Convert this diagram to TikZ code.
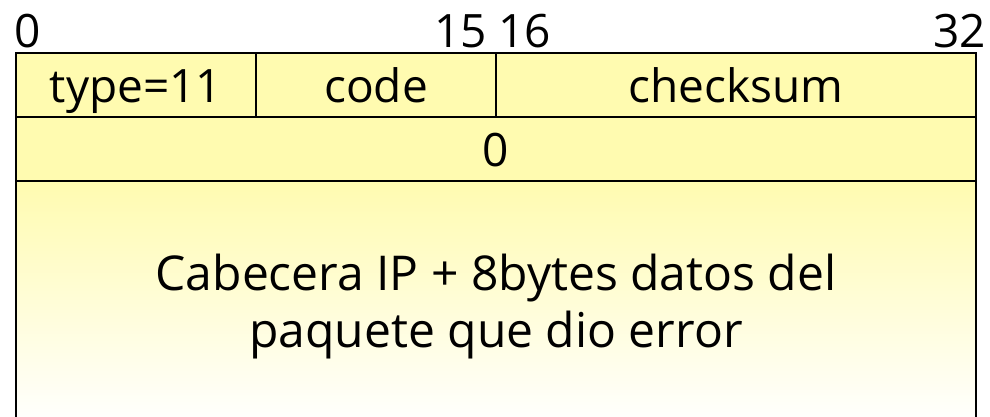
\documentclass[tikz,border=0pt]{standalone}
\usepackage{fontspec}
\setmainfont{Open Sans}
\definecolor{pale}{HTML}{FFFBB0}
\begin{document}
\begin{tikzpicture}[x=1pt,y=-1pt,
  cell/.style={draw=black,line width=2pt,fill=pale,inner sep=0pt,outer sep=0pt},
  txt/.style={inner sep=0pt,anchor=base,font=\fontsize{46}{54}\selectfont},
  big/.style={inner sep=0pt,anchor=base,font=\fontsize{48}{56}\selectfont},
  num/.style={inner sep=0pt,font=\fontsize{46}{54}\selectfont}]
\useasboundingbox (0,0) rectangle (990,417);
\shade[top color=pale,bottom color=white] (16,181) rectangle (976,425);
\draw[line width=2pt] (16,430) -- (16,181) -- (976,181) -- (976,430);
\node[cell,minimum width=240pt,minimum height=64pt,anchor=north west] (type) at (16,53) {};
\node[cell,minimum width=240pt,minimum height=64pt,anchor=north west] (code) at (256,53) {};
\node[cell,minimum width=480pt,minimum height=64pt,anchor=north west] (chk) at (496,53) {};
\node[cell,minimum width=960pt,minimum height=64pt,anchor=north west] (zero) at (16,117) {};
\node[txt] (ttype) at (136,103) {type=11};
\node[txt] (tcode) at (376,103) {code};
\node[txt] (tchk) at (736,103) {checksum};
\node[txt] (tzero) at (496,166) {0};
\node[big] (l1) at (496,290) {Cabecera IP + 8bytes datos del};
\node[big] (l2) at (496,347) {paquete que dio error};
\node[num,anchor=base west] (n0) at (14,48) {0};
\node[num,anchor=base east] (n15) at (487,48) {15};
\node[num,anchor=base west] (n16) at (498,48) {16};
\node[num,anchor=base east] (n32) at (986,48) {32};
\end{tikzpicture}
\end{document}
